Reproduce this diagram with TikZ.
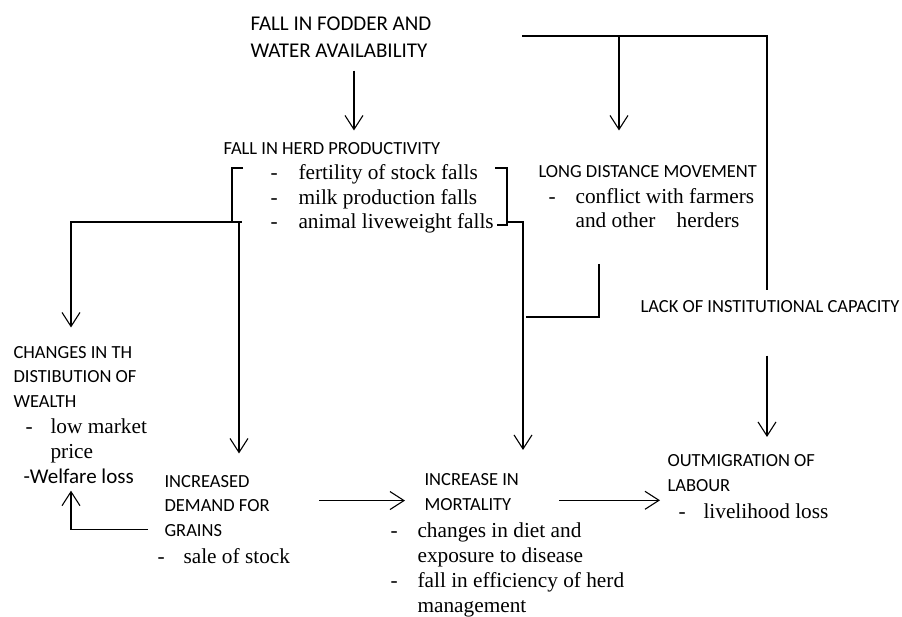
\documentclass[tikz,border=0pt]{standalone}
\usepackage{fontspec}
\setmainfont{Liberation Serif}
\newfontfamily\calibri{Carlito}
\usepackage{tikz}
\usetikzlibrary{arrows.meta,calc,positioning}

\newcommand{\dashitem}[2][27pt]{\makebox[#1][l]{-}#2}

\begin{document}
\begin{tikzpicture}[x=1pt,y=-1pt,
				>={Straight Barb[length=14pt,width=18pt]},
				line width=1.1pt,
				capsbig/.style={font=\calibri\fontsize{21}{27}\selectfont,align=left,inner sep=0pt,anchor=base west},
				caps/.style={font=\calibri\fontsize{18.5}{24.5}\selectfont,align=left,inner sep=0pt,anchor=base west},
				items/.style={font=\fontsize{21.3}{24.8}\selectfont,align=left,inner sep=0pt,anchor=base west}
			]
			\useasboundingbox (0,0) rectangle (902,617);
			% causes (base = last line)
			\node[capsbig] (fodder) at (250,58) {FALL IN FODDER AND\\WATER AVAILABILITY};
			\node[caps] (prod) at (223,155) {FALL IN HERD PRODUCTIVITY};
			\node[items] (prodlist) at (270,229) {\dashitem[28pt]{fertility of stock falls}\\\dashitem[28pt]{milk production falls}\\\dashitem[28pt]{animal liveweight falls}};
			\node[caps] (ldm) at (538,178) {LONG DISTANCE MOVEMENT};
			\node[items] (ldmlist) at (548,228) {\dashitem{conflict with farmers}\\\hspace*{27pt}and other\hspace{16pt} herders};
			\node[caps] (lack) at (640,313) {LACK OF INSTITUTIONAL CAPACITY};
			% effects
			\node[caps] (wealth) at (13,407) {CHANGES IN TH\\DISTIBUTION OF\\WEALTH};
			\node[items] (wealthlist) at (25,458) {\dashitem[25pt]{low market}\\\hspace*{25pt}price};
			\node[capsbig] (welfare) at (23,483) {-Welfare loss};
			\node[caps] (grains) at (164,536) {INCREASED\\DEMAND FOR\\GRAINS};
			\node[items] (grainslist) at (157,563) {\dashitem[26pt]{sale of stock}};
			\node[caps] (mort) at (424,510) {INCREASE IN\\MORTALITY};
			\node[items] (mortlist) at (390,612) {\dashitem{changes in diet and}\\\hspace*{27pt}exposure to disease\\\dashitem{fall in efficiency of herd}\\\hspace*{27pt}management};
			\node[caps] (outmig) at (667,491) {OUTMIGRATION OF\\LABOUR};
			\node[items] (outmiglist) at (678,518) {\dashitem[25pt]{livelihood loss}};

			% brackets round the productivity list
			\coordinate (brL) at (232,222);
			\coordinate (brR) at (507,222);
			\draw (243,168) -- (232,168) -- (brL) -- (242,222);
			\draw (495,168) -- (brR |- 0,168) -- (507,225) -- (497,225);

			% junctions
			\coordinate (topL) at (522,36);
			\coordinate (topR) at (767,36);
			\coordinate (split) at (619,36);
			\coordinate (jW) at (71,222);
			\coordinate (jG) at (239,222);
			\coordinate (jM) at (523,222);
			\coordinate (jD) at (599,317);

			\draw[->,shorten <=12pt,shorten >=12pt] ([xshift=13pt]fodder.south) -- ([xshift=13pt]fodder.south |- prod.north);
			\draw[shorten >=10pt] (topL) -- (topR) -- (topR |- lack.north);
			\draw[->,shorten >=35pt] (split) -- (split |- ldm.north);
			\draw[->,shorten <=42pt,shorten >=17pt] (topR |- lack.south) -- (topR |- outmig.north);
			\draw[->,shorten >=18pt] (brL) -- (jW) -- (jW |- wealth.north);
			\draw[->,shorten >=21pt] (jG) -- (jG |- grains.north);
			\draw[->,shorten >=23pt] (brR) -- (jM) -- (jM |- mort.north);
			\draw[shorten <=35pt] (ldmlist.south -| jD) -- (jD) -- (jD -| 526,0);
			\draw[->,shorten <=49pt,shorten >=19pt] ([yshift=5pt]grains.east) -- ([yshift=5pt]grains.east -| mort.west);
			\draw[->,shorten <=40pt,shorten >=7pt] ([yshift=-8.5pt]mort.east) -- ([yshift=-8.5pt]mort.east -| outmig.west);
			\draw[->,shorten <=16pt,shorten >=7pt] ([yshift=7pt]grains.south west) -- ([yshift=7pt]grains.south west -| jW) -- (jW |- welfare.south);
		\end{tikzpicture}
\end{document}
